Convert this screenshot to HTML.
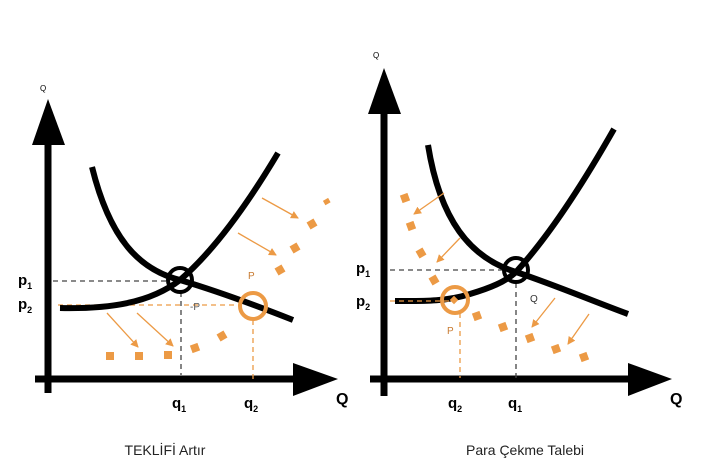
<!DOCTYPE html>
<html><head><meta charset="utf-8"><style>
body{margin:0;background:#fff;}
svg{display:block;font-family:"Liberation Sans",sans-serif;}
</style></head><body>
<svg width="718" height="473" viewBox="0 0 718 473">
<defs>
<marker id="ah" markerWidth="8" markerHeight="8" refX="7" refY="4" orient="auto" markerUnits="userSpaceOnUse"><path d="M0,0 L8,4 L0,8 z" fill="#ec9a45"/></marker>
</defs>
<rect width="718" height="473" fill="#fff"/>
<!-- LEFT -->
<g>
<line x1="48" y1="140" x2="48" y2="393" stroke="#000" stroke-width="7"/>
<polygon points="48,99 32,145 65,145" fill="#000"/>
<line x1="35" y1="379" x2="296" y2="379" stroke="#000" stroke-width="7"/>
<polygon points="338,379 293,363 293,396" fill="#000"/>
<text x="40" y="91" font-size="8">Q</text>
<text x="336" y="404" font-size="16" font-weight="bold">Q</text>
<line x1="53" y1="281" x2="170" y2="281" stroke="#444" stroke-width="1.3" stroke-dasharray="5,4"/>
<line x1="181" y1="292" x2="181" y2="375" stroke="#444" stroke-width="1.3" stroke-dasharray="5,4"/>
<line x1="58" y1="305" x2="242" y2="305" stroke="#ec9a45" stroke-width="1.3" stroke-dasharray="5,4"/>
<line x1="253" y1="320" x2="253" y2="379" stroke="#ec9a45" stroke-width="1.3" stroke-dasharray="5,4"/>
<path d="M60,308 C110,309 150,303 180,280 C215,250 250,200 278,153" fill="none" stroke="#000" stroke-width="6"/>
<path d="M92,167 C110,240 140,270 180,280 C220,292 255,305 293,320" fill="none" stroke="#000" stroke-width="6"/>
<circle cx="180" cy="280" r="12" fill="none" stroke="#000" stroke-width="4"/>
<circle cx="253" cy="306" r="13" fill="none" stroke="#ec9a45" stroke-width="4"/>
<g fill="#ec9a45">
<rect x="106" y="352" width="8" height="8"/><rect x="135" y="352" width="8" height="8"/><rect x="164" y="351" width="8" height="8"/>
<rect x="191" y="344" width="8" height="8" transform="rotate(-20 195 348)"/><rect x="218" y="332" width="8" height="8" transform="rotate(-30 222 336)"/>
<rect x="276" y="266" width="8" height="8" transform="rotate(-30 280 270)"/><rect x="291" y="244" width="8" height="8" transform="rotate(-30 295 248)"/>
<rect x="308" y="220" width="8" height="8" transform="rotate(-30 312 224)"/><rect x="324" y="199" width="6" height="5" transform="rotate(-30 327 202)"/>
</g>
<g stroke="#ec9a45" stroke-width="1.3" marker-end="url(#ah)">
<line x1="107" y1="313" x2="138" y2="347"/><line x1="137" y1="313" x2="173" y2="346"/>
<line x1="262" y1="198" x2="298" y2="218"/><line x1="238" y1="233" x2="276" y2="255"/>
</g>
<text x="190" y="310" font-size="10" fill="#555">-P</text>
<text x="248" y="279" font-size="10" fill="#c87a30">P</text>
<text x="18" y="285" font-size="15" font-weight="bold">p<tspan font-size="9" dy="4">1</tspan></text>
<text x="18" y="309" font-size="15" font-weight="bold">p<tspan font-size="9" dy="4">2</tspan></text>
<text x="172" y="408" font-size="15" font-weight="bold">q<tspan font-size="9" dy="4">1</tspan></text>
<text x="244" y="408" font-size="15" font-weight="bold">q<tspan font-size="9" dy="4">2</tspan></text>
<text x="165" y="455" font-size="14" text-anchor="middle" fill="#222">TEKLİFİ Artır</text>
</g>
<!-- RIGHT -->
<g>
<line x1="384" y1="108" x2="384" y2="396" stroke="#000" stroke-width="7"/>
<polygon points="384,68 368,114 401,114" fill="#000"/>
<line x1="370" y1="379" x2="630" y2="379" stroke="#000" stroke-width="7"/>
<polygon points="672,379 628,363 628,396" fill="#000"/>
<text x="373" y="58" font-size="8">Q</text>
<text x="670" y="404" font-size="16" font-weight="bold">Q</text>
<line x1="390" y1="270" x2="505" y2="270" stroke="#444" stroke-width="1.3" stroke-dasharray="5,4"/>
<line x1="516" y1="283" x2="516" y2="378" stroke="#444" stroke-width="1.3" stroke-dasharray="5,4"/>
<line x1="460" y1="313" x2="460" y2="378" stroke="#ec9a45" stroke-width="1.3" stroke-dasharray="5,4"/>
<path d="M395,301 C420,301 445,302 470,294 C490,288 505,282 516,272 C550,235 585,180 614,129" fill="none" stroke="#000" stroke-width="6"/>
<line x1="390" y1="301" x2="450" y2="301" stroke="#ec9a45" stroke-width="1.3" stroke-dasharray="5,4"/>
<path d="M428,145 C440,220 470,258 516,272 C555,285 590,300 628,314" fill="none" stroke="#000" stroke-width="6"/>
<circle cx="516" cy="270" r="12" fill="none" stroke="#000" stroke-width="4"/>
<circle cx="455" cy="300" r="13" fill="none" stroke="#ec9a45" stroke-width="4"/>
<g fill="#ec9a45">
<rect x="401" y="194" width="8" height="8" transform="rotate(-20 405 198)"/><rect x="407" y="222" width="8" height="8" transform="rotate(-20 411 226)"/>
<rect x="417" y="249" width="8" height="8" transform="rotate(-30 421 253)"/><rect x="430" y="276" width="8" height="8" transform="rotate(-30 434 280)"/>
<rect x="451" y="297" width="6" height="6" transform="rotate(45 454 300)"/>
<rect x="473" y="312" width="8" height="8" transform="rotate(-20 477 316)"/><rect x="499" y="323" width="8" height="8" transform="rotate(-20 503 327)"/>
<rect x="526" y="334" width="8" height="8" transform="rotate(-20 530 338)"/><rect x="552" y="345" width="8" height="8" transform="rotate(-20 556 349)"/>
<rect x="580" y="353" width="8" height="8" transform="rotate(-20 584 357)"/>
</g>
<g stroke="#ec9a45" stroke-width="1.3" marker-end="url(#ah)">
<line x1="444" y1="193" x2="414" y2="214"/><line x1="460" y1="238" x2="437" y2="262"/>
<line x1="555" y1="298" x2="532" y2="327"/><line x1="589" y1="314" x2="568" y2="344"/>
</g>
<text x="530" y="302" font-size="10" fill="#333">Q</text>
<text x="447" y="334" font-size="10" fill="#c87a30">P</text>
<text x="356" y="273" font-size="15" font-weight="bold">p<tspan font-size="9" dy="4">1</tspan></text>
<text x="356" y="306" font-size="15" font-weight="bold">p<tspan font-size="9" dy="4">2</tspan></text>
<text x="448" y="408" font-size="15" font-weight="bold">q<tspan font-size="9" dy="4">2</tspan></text>
<text x="508" y="408" font-size="15" font-weight="bold">q<tspan font-size="9" dy="4">1</tspan></text>
<text x="525" y="455" font-size="14" text-anchor="middle" fill="#222">Para Çekme Talebi</text>
</g>
</svg>
</body></html>
